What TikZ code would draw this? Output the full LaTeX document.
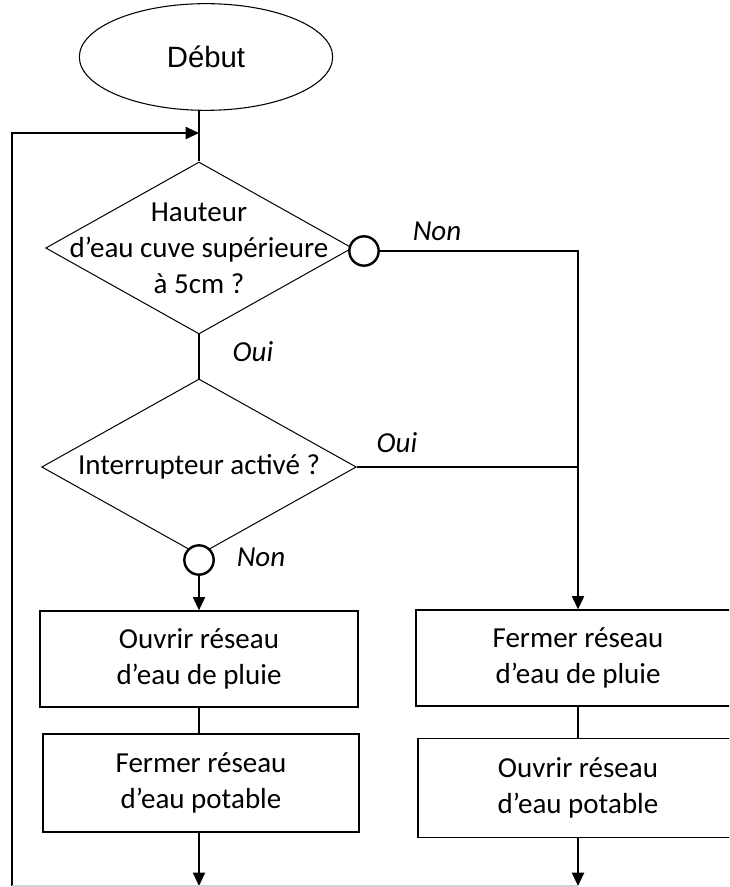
\documentclass[tikz,border=0pt]{standalone}
\usepackage{fontspec}
\setmainfont{Carlito}
\newfontfamily\debutfont{Liberation Sans}
\usetikzlibrary{shapes.geometric,arrows.meta,positioning,calc}

\begin{document}
\begin{tikzpicture}
[x=0.75pt,y=-0.75pt,
txt/.style={font=\fontsize{21.75pt}{27pt}\selectfont,align=center},
terminal/.style={shape=ellipse,draw=black,line width=0.8pt,minimum width=190pt,minimum height=80pt,inner sep=0pt},
decision/.style={shape=diamond,draw=black,line width=0.75pt,inner sep=0pt},
choice/.style={shape=circle,draw=black,fill=white,line width=1.8pt,minimum size=22pt,inner sep=0pt},
action/.style={shape=rectangle,draw=black,line width=0.9pt,inner sep=0pt,txt},
answer/.style={font=\fontsize{21.75pt}{27pt}\selectfont\itshape,inner sep=0pt},
myedge/.style={line width=1.5pt},
dedge/.style={myedge,-{Triangle[width=9pt,length=10pt]}}]
\useasboundingbox (0,0) rectangle (729,887);
\clip (0,0) rectangle (729,887);
%%
\node (debut) [terminal] at (206,57) {\debutfont\fontsize{22pt}{26pt}\selectfont Début};
\node (q1) [decision,minimum width=230pt,minimum height=129pt,
  label={[txt]center:{Hauteur\\d’eau cuve supérieure\\à 5cm ?}}] at (199,248) {};
\node (q2) [decision,minimum width=236pt,minimum height=132pt,
  label={[txt]center:{Interrupteur activé ?}}] at (199,467) {};
\node (c1) [choice] at (364,251) {};
\node (c2) [choice] at (199,560) {};
%%
\node (a1) [action,minimum width=238.5pt,minimum height=72pt] at (199,659) {Ouvrir réseau\\d’eau de pluie};
\node (a2) [action,minimum width=237pt,minimum height=73.5pt] at (201,783) {Fermer réseau\\d’eau potable};
\node (b1) [action,minimum width=243pt,minimum height=72pt] at (578,658) {Fermer réseau\\d’eau de pluie};
\node (b2) [action,minimum width=240pt,minimum height=74pt] at (578,788) {Ouvrir réseau\\d’eau potable};
%%
\node (non1) [answer] at (437,231) {Non};
\node (oui1) [answer] at (253,352) {Oui};
\node (oui2) [answer] at (397,443) {Oui};
\node (non2) [answer] at (261,557) {Non};
%%
\coordinate (top) at (199,133);
\coordinate (corner) at (12,886);
\coordinate (lb) at (199,886);
\coordinate (rb) at (578,886);
\coordinate (j1) at (578,251);
\coordinate (j2) at (578,467);
%%
\draw[myedge] (q1.north |- debut.south) -- (q1.north);
\draw[myedge] (q1.south) -- (q2.north);
\draw[dedge] (c2.south) -- (a1.north);
\draw[myedge] (a1.south) -- (a1.south |- a2.north);
\draw[dedge] (a1.south |- a2.south) -- (lb);
\draw[myedge] (c1.east) -- (j1) -- (j2);
\draw[myedge] (q2.east) -- (j2);
\draw[dedge] (j2) -- (b1.north);
\draw[myedge] (b1.south) -- (b2.north);
\draw[dedge] (b2.south) -- (rb);
\draw[dedge] (corner) |- (top);
\draw[gray!35,line width=1pt] (corner) -- (rb);
\end{tikzpicture}
\end{document}
